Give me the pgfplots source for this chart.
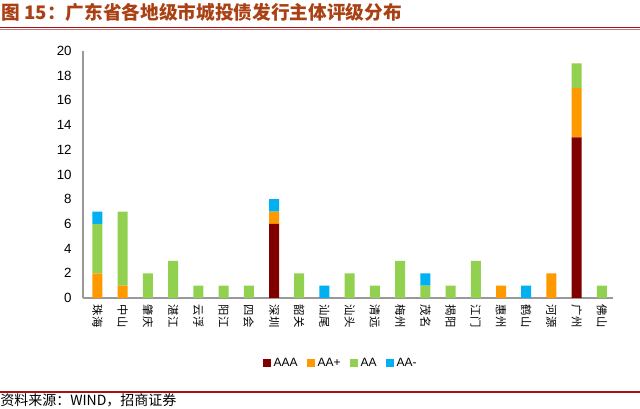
\documentclass[border=0pt]{standalone}
\usepackage{pgfplots}
\pgfplotsset{compat=1.18}
\usepackage{pgfplotstable}
\usepackage{fontspec}
\setmainfont{Liberation Sans}
\newfontfamily\cjk{Noto Sans CJK SC}
\definecolor{cAAA}{RGB}{128,0,0}
\definecolor{cAAp}{RGB}{255,153,0}
\definecolor{cAA}{RGB}{146,208,80}
\definecolor{cAAm}{RGB}{0,176,240}
\definecolor{titlered}{RGB}{170,65,20}
\definecolor{rule}{RGB}{165,20,20}

% x AAA AA+ AA AA-
\pgfplotstableread{
x AAA AAp AA AAm
0 0 2 4 1
1 0 1 6 0
2 0 0 2 0
3 0 0 3 0
4 0 0 1 0
5 0 0 1 0
6 0 0 1 0
7 6 1 0 1
8 0 0 2 0
9 0 0 0 1
10 0 0 2 0
11 0 0 1 0
12 0 0 3 0
13 0 0 1 1
14 0 0 1 0
15 0 0 3 0
16 0 1 0 0
17 0 0 0 1
18 0 2 0 0
19 13 4 2 0
20 0 0 1 0
}\ratings

\begin{document}
\begin{tikzpicture}
\useasboundingbox (0,0) rectangle (480pt,-306.75pt);
\node[anchor=base west, inner sep=0pt, text=titlered, font=\cjk\bfseries\fontsize{14}{16}\selectfont]
  at (1pt,-15pt) {图 15：广东省各地级市城投债发行主体评级分布};
\draw[rule, line width=1.2pt] (0,-20.6pt) -- (480pt,-20.6pt);
\draw[rule!60, line width=0.4pt] (0,-22.2pt) -- (480pt,-22.2pt);
\draw[rule, line width=0.9pt] (0,-294pt) -- (480pt,-294pt);
\node[anchor=base west, inner sep=0pt, font=\cjk\fontsize{10.5}{12}\selectfont]
  at (0pt,-304pt) {资料来源：WIND，招商证券};

\begin{axis}[
  at={(62.25pt,-223.5pt)}, anchor=south west,
  scale only axis, width=397.5pt, height=185.25pt,
  ybar stacked, bar width=7.5pt,
  xmin=-0.574, xmax=20.44, ymin=0, ymax=20,
  axis x line=bottom, axis y line=left,
  axis line style={gray!80, line width=0.9pt, -},
  ytick={0,2,...,20},
  xtick={0,...,20},
  xticklabels={珠海,中山,肇庆,湛江,云浮,阳江,四会,深圳,韶关,汕尾,汕头,清远,梅州,茂名,揭阳,江门,惠州,鹤山,河源,广州,佛山},
  x tick label style={font=\cjk\fontsize{8.5}{9}\selectfont, rotate=-90, anchor=west, inner sep=1pt},
  xticklabel shift=4pt,
  y tick label style={font=\fontsize{10}{12}\selectfont},
  yticklabel shift=5pt,
  /pgf/number format/assume math mode=true,
  major tick length=0pt,
  legend style={at={(0.487,-0.265)}, anchor=center, draw=none, fill=none,
    legend columns=-1, font=\fontsize{9}{10}\selectfont,
    /tikz/every even column/.append style={column sep=5pt}},
  legend image code/.code={\fill[#1] (0pt,-3pt) rectangle (6pt,3pt);},
  legend cell align=left,
]
\addplot[fill=cAAA, draw=none] table[x=x, y=AAA] {\ratings};
\addplot[fill=cAAp, draw=none] table[x=x, y=AAp] {\ratings};
\addplot[fill=cAA, draw=none] table[x=x, y=AA] {\ratings};
\addplot[fill=cAAm, draw=none] table[x=x, y=AAm] {\ratings};
\legend{AAA,AA+,AA,AA-}
\end{axis}
\end{tikzpicture}
\end{document}
